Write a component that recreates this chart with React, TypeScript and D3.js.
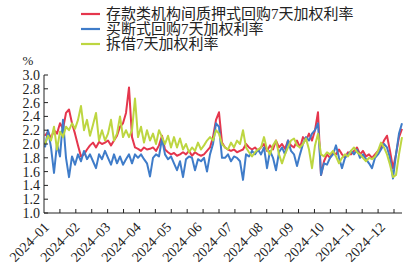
import React from "react";
import * as d3 from "d3";

const seriesNames = ["存款类机构间质押式回购7天加权利率", "买断式回购7天加权利率", "拆借7天加权利率"];
const seriesColors = ["#e5364d", "#3f7cc9", "#bdd641"];

const red = [
  2.12, 2.18, 2.08, 2.2, 2.15, 2.3, 2.22, 2.45, 2.5, 2.3,
  2.15, 1.98, 1.82, 1.85, 1.92, 1.98, 2.02, 1.95, 2.03, 2.0,
  2.02, 2.05, 1.98, 2.05, 2.12, 2.25, 2.3, 2.45, 2.82, 2.1,
  1.95, 1.93, 1.9, 1.95, 1.92, 1.93, 1.95, 1.9, 1.98, 2.12,
  1.92, 1.88, 1.85, 1.87, 1.83, 1.85, 1.88, 1.85, 1.9, 1.83,
  1.88, 1.85, 1.83, 1.85, 1.9, 1.95, 2.1, 2.35, 2.46, 2.02,
  1.95, 1.92, 1.9, 1.92, 1.88, 1.9, 1.92, 2.0, 1.95, 1.92,
  1.95, 1.9, 1.95, 2.0, 1.9, 1.98, 1.92, 2.05, 1.95, 2.0,
  1.93, 2.05, 1.98, 1.95, 2.05, 1.95, 2.1, 2.05, 2.15, 2.05,
  2.2, 2.46, 1.55, 1.75, 1.85, 1.8, 1.88, 1.85, 1.92, 1.85,
  1.8, 1.88, 1.85, 1.9, 1.95, 1.85, 1.9, 1.82, 1.85, 1.8,
  1.85, 1.9, 1.95, 2.05, 2.12, 1.9, 1.65, 1.85, 2.1, 2.22,
];

const blue = [
  1.95, 2.2, 1.95, 1.58, 2.0, 1.82, 2.35, 1.8, 1.52, 1.82,
  1.7, 1.85, 1.75, 1.9, 1.78, 1.85, 1.75, 1.65, 1.85, 1.78,
  1.9, 1.8, 1.7, 1.85, 1.72, 1.82, 1.7, 1.78, 1.85, 1.72,
  1.85, 1.8, 1.85, 1.78, 1.72, 1.53, 1.8, 1.85, 1.82, 2.08,
  1.85, 1.78, 1.82, 1.72, 1.62, 1.75, 1.52, 1.78, 1.82, 1.8,
  1.62, 1.78, 1.75, 1.8, 1.6, 1.85, 2.0, 2.3, 2.25, 1.8,
  1.8, 1.85, 1.75, 1.82, 1.8, 1.75, 1.48, 1.85, 1.82, 1.9,
  1.85, 1.92, 1.85, 1.95, 1.65, 1.9, 1.8, 1.62, 1.88, 1.95,
  1.85, 2.05, 1.9, 1.85, 1.68, 1.85, 2.0, 2.1, 2.05, 2.15,
  2.2, 2.3, 1.55, 1.72, 1.7, 1.8, 1.85, 1.98, 1.8, 1.65,
  1.8, 1.85, 1.9, 1.85, 1.92, 1.8, 1.85, 1.78, 1.72, 1.65,
  1.8, 1.85, 1.92, 2.0, 1.95, 1.8, 1.5, 1.85, 2.15, 2.3,
];

const green = [
  2.0, 2.12, 2.05, 2.25, 1.92, 2.18, 2.1, 2.25, 2.2, 2.3,
  2.22, 2.35, 2.55, 2.2, 2.35, 2.12, 2.28, 2.45, 2.05, 2.2,
  2.05, 2.15, 2.35, 2.05, 2.15, 2.4, 2.1, 2.2, 2.1, 2.2,
  2.66, 2.1, 2.25, 2.02, 2.2, 2.05, 2.15, 2.0, 2.2, 2.1,
  2.0, 2.12, 1.95, 2.1, 1.95, 2.08, 1.92, 2.0, 1.88, 1.95,
  1.9, 2.02, 1.92, 1.98, 2.05, 2.1, 2.05, 2.2, 2.15, 2.0,
  1.95, 1.92, 2.02, 1.95, 2.05, 2.0, 2.2, 1.95, 1.88, 1.82,
  1.88, 1.92, 1.95, 2.1, 1.92, 1.85, 1.98, 2.05, 1.85, 1.72,
  1.85, 1.95, 2.05, 2.08, 1.98, 1.95, 2.0, 2.08, 1.92, 1.65,
  1.98, 2.15, 1.85, 1.82, 1.88, 1.85, 1.9, 1.82, 1.72, 1.8,
  1.85, 1.82, 1.9, 1.95, 1.88, 1.85, 1.8, 1.75, 1.8, 1.78,
  1.82, 1.9, 2.02, 1.95, 1.85, 1.7, 1.52, 1.55, 1.85, 2.1,
];

const yTicks = [1.0, 1.2, 1.4, 1.6, 1.8, 2.0, 2.2, 2.4, 2.6, 2.8, 3.0];
const monthLabels = [
  "2024–01", "2024–02", "2024–03", "2024–04", "2024–05", "2024–06",
  "2024–07", "2024–08", "2024–09", "2024–10", "2024–11", "2024–12",
];
const minorTickCount = 22;

const FONT = '"Liberation Serif", "Noto Sans CJK SC", serif';

export default function App() {
  const W = 407, H = 266;
  const left = 44, right = 402, top = 75, bottom = 213;
  const series = [red, blue, green];
  const n = red.length;

  const x = d3.scaleLinear().domain([0, n - 1]).range([45, 402]);
  const y = d3.scaleLinear().domain([1, 3]).range([bottom, top]);
  const tickX = d3.scaleLinear().domain([0, minorTickCount]).range([left, 394]);
  const labelX = d3.scalePoint<string>().domain(monthLabels).range([50, 386]);

  const line = d3.line<number>().x((_, i) => x(i)).y((d) => y(d));
  const ts = { fontFamily: FONT };

  return (
    <svg width={W} height={H} style={{ position: "absolute", left: 0, top: 0, background: "#fff", fontFamily: FONT }}>
      {/* legend */}
      {seriesNames.map((name, i) => (
        <g key={name} transform={`translate(0, ${14 + i * 15})`}>
          <line x1={81} x2={100} y1={0} y2={0} stroke={seriesColors[i]} strokeWidth={2.2} />
          <text x={106} y={0} dy="0.36em" fontSize={15} fill="#222" style={ts}>{name}</text>
        </g>
      ))}
      <text x={28} y={60} fontSize={13} textAnchor="middle" fill="#222" dy="0.35em" style={ts}>%</text>

      {/* lines */}
      {series.map((s, i) => (
        <path key={i} d={line(s) || ""} fill="none" stroke={seriesColors[i]} strokeWidth={2} strokeLinejoin="round" />
      ))}

      {/* y axis */}
      <line x1={left} x2={left} y1={top} y2={bottom} stroke="#222" strokeWidth={1} />
      {yTicks.map((t) => (
        <g key={t}>
          <line x1={left} x2={left + 4} y1={y(t)} y2={y(t)} stroke="#222" strokeWidth={1} />
          <text x={40} y={y(t)} dy="0.35em" textAnchor="end" fontSize={14} fill="#222" style={ts}>{t.toFixed(1)}</text>
        </g>
      ))}

      {/* x axis */}
      <line x1={left} x2={right} y1={bottom} y2={bottom} stroke="#222" strokeWidth={1} />
      {d3.range(1, minorTickCount + 1).map((k) => (
        <line key={k} x1={tickX(k)} x2={tickX(k)} y1={bottom} y2={bottom - 4} stroke="#222" strokeWidth={1} />
      ))}
      {monthLabels.map((m) => (
        <text key={m} transform={`translate(${labelX(m)}, 228) rotate(-45)`} textAnchor="end" fontSize={14} fill="#222" style={ts}>{m}</text>
      ))}
    </svg>
  );
}
